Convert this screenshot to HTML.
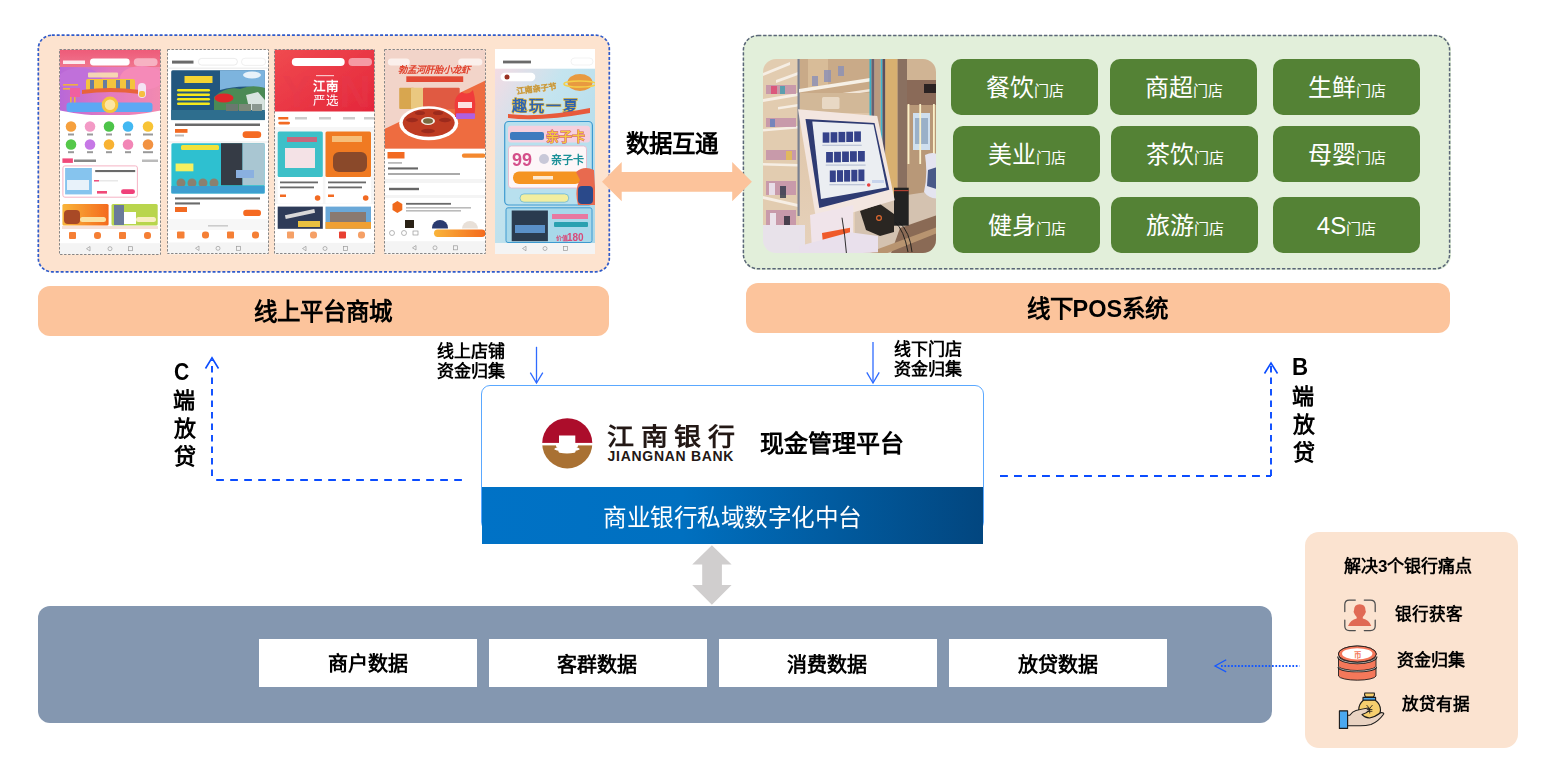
<!DOCTYPE html>
<html lang="zh-CN">
<head>
<meta charset="utf-8">
<style>
*{margin:0;padding:0;box-sizing:border-box;}
html,body{width:1560px;height:773px;background:#fff;overflow:hidden;}
body{position:relative;font-family:"Liberation Sans",sans-serif;color:#000;}
.a{position:absolute;}
.t{position:absolute;white-space:nowrap;line-height:1;}
.b{font-weight:bold;}
/* top-left box */
#lbox{left:38px;top:35px;width:572px;height:237px;background:#FDE3CF;border-radius:14px;}
.phone{position:absolute;top:49px;height:205px;background:#fff;border:1px dashed #7f7f7f;overflow:hidden;}
#gbox{left:742.5px;top:35px;width:708px;height:234.5px;background:#E2EFDA;border-radius:15px;}
.tile{position:absolute;background:#548235;border-radius:10px;color:#fff;}
.tile span{position:absolute;white-space:nowrap;line-height:1;}
.bar{position:absolute;background:#FCC49C;border-radius:12px;}
</style>
</head>
<body>
<!-- online mall box -->
<div id="lbox" class="a"></div>
<svg class="a" style="left:0;top:0;" width="620" height="280"><rect x="38.3" y="35.2" width="571" height="236.6" rx="13.5" fill="none" stroke="#2F5BCB" stroke-width="1.7" stroke-dasharray="3 1.9"/></svg>

<!-- phones -->
<svg class="a" style="left:0;top:0;" width="620" height="280" viewBox="0 0 620 280">
<defs>
<linearGradient id="p1h" x1="0" y1="0" x2="0" y2="1"><stop offset="0" stop-color="#EE5A78"/><stop offset="1" stop-color="#F07A92"/></linearGradient>
<linearGradient id="p1b" x1="0" y1="0" x2="1" y2="0"><stop offset="0" stop-color="#B868D8"/><stop offset=".5" stop-color="#E27AC0"/><stop offset="1" stop-color="#F28AB0"/></linearGradient>
<linearGradient id="p3h" x1="0" y1="0" x2="1" y2="1"><stop offset="0" stop-color="#F04A50"/><stop offset="1" stop-color="#E4263A"/></linearGradient>
<linearGradient id="orb" x1="0" y1="0" x2="1" y2="0"><stop offset="0" stop-color="#F9B43A"/><stop offset="1" stop-color="#F46A1E"/></linearGradient>
<linearGradient id="p5bg" x1="0" y1="0" x2="1" y2="1"><stop offset="0" stop-color="#F4DCE4"/><stop offset=".35" stop-color="#C4E4EF"/><stop offset="1" stop-color="#ACD8E8"/></linearGradient>
<clipPath id="c1"><rect x="59.5" y="49.5" width="101" height="205"/></clipPath>
<clipPath id="c2"><rect x="167.5" y="49.5" width="101" height="205"/></clipPath>
<clipPath id="c3"><rect x="274.5" y="49.5" width="100" height="205"/></clipPath>
<clipPath id="c4"><rect x="384.5" y="49.5" width="101" height="205"/></clipPath>
<clipPath id="c5"><rect x="495" y="49" width="100" height="205"/></clipPath>
<filter id="bl"><feGaussianBlur stdDeviation="0.45"/></filter>
</defs>
<g filter="url(#bl)">
<!-- ===== phone 1 x59-160.5 ===== -->
<g clip-path="url(#c1)">
<rect x="59.5" y="49.5" width="101" height="205" fill="#fff"/>
<rect x="59.5" y="49.5" width="101" height="20" fill="url(#p1h)"/>
<rect x="60" y="67" width="100" height="48" fill="url(#p1b)"/>
<ellipse cx="80" cy="80" rx="22" ry="12" fill="#C070DA"/>
<ellipse cx="142" cy="78" rx="22" ry="12" fill="#F58AB8"/>
<rect x="63" y="60.5" width="22" height="3.5" fill="#fff" opacity=".85"/>
<rect x="90" y="58.6" width="39.7" height="6.8" rx="3.4" fill="#fff"/>
<rect x="133.8" y="58.2" width="23.8" height="7.8" rx="3.9" fill="#F7B2C2"/>
<rect x="88" y="72.5" width="30" height="5" rx="1" fill="#F8E0B0" opacity=".9"/>
<rect x="86" y="79" width="49" height="11.5" rx="2" fill="#F4C43C"/>
<g fill="#3A64C0" opacity=".75"><rect x="90" y="80" width="4" height="9"/><rect x="103" y="80" width="4" height="9"/><rect x="116" y="80" width="4" height="9"/><rect x="126" y="80" width="4" height="9"/></g>
<path d="M82,90 Q110,86 140,90 L140,94 Q110,90 82,94 Z" fill="#E8643A"/>
<g fill="#F0B040"><rect x="63" y="84" width="15" height="1.6"/><rect x="63" y="88" width="15" height="1.6"/><rect x="70" y="97" width="1.6" height="15"/><rect x="74" y="97" width="1.6" height="15"/></g>
<rect x="70" y="88" width="10" height="9" fill="#F060A0"/>
<rect x="66.5" y="102.4" width="86" height="9.5" rx="3" fill="#5CA8F4"/>
<rect x="138" y="83" width="8" height="15" rx="4" fill="#F4E4F4"/>
<rect x="139" y="91" width="6" height="6" rx="2" fill="#F6C040"/>
<circle cx="110" cy="104.8" r="8.3" fill="#F6C43C"/>
<circle cx="110" cy="104.8" r="5.3" fill="#FCE6A2"/>
<path d="M60,110.5 Q110,121 160.5,110.5 L160.5,118 L60,118 Z" fill="#fff"/>
<g>
<circle cx="71" cy="126.5" r="5.3" fill="#F6A03E"/><circle cx="90" cy="126.5" r="5.3" fill="#F39AC6"/><circle cx="109" cy="126.5" r="5.3" fill="#4DC44A"/><circle cx="128" cy="126.5" r="5.3" fill="#43B8F2"/><circle cx="148" cy="126.5" r="5.3" fill="#F8C436"/>
<circle cx="71" cy="144.5" r="5.3" fill="#54C84A"/><circle cx="90" cy="144.5" r="5.3" fill="#C678E6"/><circle cx="109" cy="144.5" r="5.3" fill="#F8B232"/><circle cx="128" cy="144.5" r="5.3" fill="#F286B6"/><circle cx="148" cy="144.5" r="5.3" fill="#F29242"/>
</g>
<g fill="#999"><rect x="68" y="133.5" width="6" height="2"/><rect x="87" y="133.5" width="6" height="2"/><rect x="106" y="133.5" width="6" height="2"/><rect x="125" y="133.5" width="6" height="2"/><rect x="143" y="133.5" width="10" height="2"/>
<rect x="68" y="151.2" width="6" height="2"/><rect x="87" y="151.2" width="6" height="2"/><rect x="106" y="151.2" width="6" height="2"/><rect x="125" y="151.2" width="6" height="2"/><rect x="143" y="151.2" width="10" height="2"/></g>
<rect x="62.4" y="158.4" width="10.5" height="4.5" fill="#F04A7A"/>
<rect x="74" y="159.5" width="22" height="2.5" fill="#888"/>
<rect x="142" y="159.5" width="16" height="2.5" fill="#bbb"/>
<rect x="62.9" y="165.9" width="74.5" height="31.3" rx="2" fill="#fff" stroke="#F5B3C4" stroke-width="1"/>
<rect x="65.1" y="168" width="26.8" height="26.4" fill="#86C4EE"/>
<rect x="67" y="180" width="22" height="10" fill="#E8F2FA"/>
<rect x="95.2" y="170.0" width="40" height="2.1" fill="#6a6a6a"/>
<rect x="94" y="180" width="24" height="1.5" fill="#E8E8E8"/><rect x="94" y="180" width="5" height="1.5" fill="#F05080"/>
<rect x="97" y="191" width="10" height="2.6" fill="#F04878"/>
<rect x="121" y="189.3" width="14" height="4.8" rx="2.4" fill="#F0407A"/>
<rect x="62.4" y="204" width="46.2" height="21.4" rx="1.5" fill="url(#orb)"/>
<rect x="64" y="210" width="16" height="14" rx="4" fill="#A84828"/>
<rect x="80" y="217" width="26" height="5" rx="2.5" fill="#FBE0A0"/>
<rect x="111.5" y="204" width="46.2" height="21.4" rx="1.5" fill="#B9D54E"/>
<rect x="114" y="205" width="10" height="20" fill="#6A7A9A"/>
<rect x="124" y="212" width="12" height="12" fill="#fff"/>
<rect x="136" y="217" width="20" height="5" rx="2.5" fill="#F8EEC0"/>
<rect x="62" y="226" width="96" height="3" fill="#F5E0D8"/>
<g fill="#F57F35"><rect x="69" y="232" width="7" height="7" rx="1"/><rect x="94" y="232" width="7" height="7" rx="3"/><rect x="119" y="232" width="7" height="7" rx="1"/><rect x="144" y="232" width="7" height="7" rx="3"/></g>
<rect x="59.5" y="243.2" width="101" height="11" fill="#F4F4F4"/>
<g fill="none" stroke="#9a9a9a" stroke-width=".7"><path d="M90,246.5 L86.5,248.7 L90,251 Z"/><circle cx="110" cy="248.7" r="2"/><rect x="128.5" y="246.7" width="4" height="4"/></g>

</g>
<!-- ===== phone 2 x167-268.5 ===== -->
<g clip-path="url(#c2)">
<rect x="167.5" y="49.5" width="101" height="205" fill="#fff"/>
<rect x="172" y="60.6" width="21.5" height="3.0" fill="#6a6a6a"/>
<rect x="198.4" y="58.4" width="39" height="6.7" rx="3.3" fill="#fff" stroke="#DDD" stroke-width=".6"/>
<rect x="241.5" y="58.2" width="24.2" height="7.2" rx="3.6" fill="#fff" stroke="#E4E4E4" stroke-width=".6"/>
<rect x="167.5" y="67.5" width="101" height="1.5" fill="#F0F0F0"/>
<rect x="171.2" y="70.3" width="93.7" height="49.8" rx="1.5" fill="#23577E"/>
<path d="M220,70.3 L264.9,70.3 L264.9,88 Q240,84 220,90 Z" fill="#7DB4DE"/>
<ellipse cx="252" cy="75" rx="9" ry="3.5" fill="#E8F2FA"/>
<path d="M214,97 Q226,86 240,89 Q252,84 264.9,88 L264.9,110 L214,110 Z" fill="#4C8A54"/>
<path d="M246,95 L258,92 L264.9,100 L264.9,112 L250,112 Z" fill="#D8E4E0"/>
<rect x="171.2" y="110" width="93.7" height="10.1" fill="#2F6E8E"/>
<rect x="184.5" y="76" width="28" height="7" fill="#F4D432"/>
<g fill="#F7E81C"><rect x="177" y="89" width="33" height="2.6" rx="1.3"/><rect x="177" y="93.5" width="33" height="2.6" rx="1.3"/><rect x="177" y="98" width="33" height="2.6" rx="1.3"/><rect x="177" y="102.5" width="33" height="2.6" rx="1.3"/></g>
<ellipse cx="224" cy="98" rx="9.5" ry="4.5" fill="#E0282A"/>
<rect x="226" y="104" width="12" height="7" fill="#6A7870"/><rect x="239" y="104" width="12" height="7" fill="#7A8878"/><rect x="252" y="104" width="10" height="7" fill="#8A9890"/>
<rect x="175" y="123.5" width="85" height="2.5" fill="#6a6a6a"/>
<rect x="175" y="129" width="12.5" height="3.8" fill="#F26A22"/>
<rect x="175" y="134.5" width="9" height="2" fill="#bbb"/>
<rect x="242.6" y="131.3" width="18.6" height="6.7" rx="3.3" fill="#F56A20"/>
<rect x="167.5" y="141" width="101" height="2.2" fill="#F4F4F4"/>
<rect x="171.4" y="143.2" width="93.2" height="50.2" rx="1.5" fill="#2DC0D0"/>
<rect x="221" y="143.2" width="21.5" height="42" fill="#353A44"/>
<rect x="242.5" y="143.2" width="22.1" height="42" fill="#A9C6D2"/>
<rect x="236" y="170" width="18" height="8" fill="#8AB0E0"/>
<rect x="181" y="145" width="38" height="5" rx="1.5" fill="#F2E23A"/>
<rect x="175.6" y="163.5" width="17.8" height="7.8" fill="#F6F060"/>
<g fill="#8A8070"><circle cx="181" cy="183" r="4.5"/><circle cx="192" cy="183" r="4.5"/><circle cx="203" cy="183" r="4.5"/><circle cx="214" cy="183" r="4.5"/></g>
<rect x="171.4" y="186" width="93.2" height="7.4" fill="#3C9ED0"/>
<rect x="175" y="197.4" width="85" height="2.1" fill="#6a6a6a"/><rect x="175" y="202.4" width="25" height="2.1" fill="#6a6a6a"/>
<rect x="175" y="207" width="12" height="5" fill="#F26A22"/>
<rect x="243.2" y="209.7" width="17.8" height="6.4" rx="3.2" fill="#F56A20"/>
<rect x="167.5" y="219" width="101" height="11" fill="#F7F7F7"/>
<rect x="208" y="225" width="20" height="1.6" fill="#ccc"/>
<g fill="#F57F35"><rect x="177" y="231.5" width="7.5" height="7" rx="1"/><rect x="202" y="231.5" width="7" height="7" rx="3"/><rect x="227" y="231.5" width="7" height="7" rx="1"/><rect x="252" y="231.5" width="7" height="7" rx="3"/></g>
<rect x="167.5" y="242.5" width="101" height="11.5" fill="#F4F4F4"/>
<g fill="none" stroke="#9a9a9a" stroke-width=".7"><path d="M199,246 L195.5,248.3 L199,250.6 Z"/><circle cx="218" cy="248.3" r="2"/><rect x="236.5" y="246.3" width="4" height="4"/></g>

</g>
<!-- ===== phone 3 x274.5-374.5 ===== -->
<g clip-path="url(#c3)">
<rect x="274.5" y="49.5" width="100" height="205" fill="#fff"/>
<rect x="274.5" y="49.5" width="100" height="62" fill="url(#p3h)"/>
<text x="282" y="107" font-family="Liberation Sans" font-weight="bold" font-size="44" fill="#E53A4E" opacity=".35">YAN</text>
<rect x="291.8" y="58" width="52.9" height="8" rx="4" fill="#fff"/>
<rect x="348.4" y="58" width="23.6" height="8" rx="4" fill="#F59AA4"/>
<text x="312.5" y="90.5" font-family="Liberation Sans" font-size="12.5" font-weight="bold" fill="#fff">江南</text>
<text x="312.5" y="104.5" font-family="Liberation Sans" font-size="12.5" fill="#fff">严选</text>
<rect x="316" y="75" width="18" height="1.2" fill="#fff" opacity=".7"/>
<g fill="#ccc"><rect x="295" y="117" width="12" height="2.5"/><rect x="319" y="117" width="12" height="2.5"/><rect x="343" y="117" width="12" height="2.5"/><rect x="364" y="117" width="10" height="2.5"/></g>
<rect x="278.3" y="117" width="10" height="2.5" fill="#F26A22"/>
<rect x="278.3" y="121.7" width="11.7" height="2.7" rx="1.3" fill="#F26A22"/>
<rect x="274.5" y="127" width="100" height="77" fill="#F6F6F6"/>
<rect x="277.7" y="131.5" width="45.1" height="45.5" rx="1.5" fill="#3EC0C8"/>
<rect x="285" y="148" width="30" height="20" fill="#F4E2E6"/>
<rect x="287" y="137" width="30" height="5" fill="#E8506A" opacity=".8"/>
<rect x="325.5" y="131.5" width="45.5" height="45.5" rx="1.5" fill="#F07A22"/>
<rect x="333" y="152" width="34" height="20" rx="6" fill="#8A4A2A"/>
<rect x="332" y="136" width="30" height="6" fill="#F8D090" opacity=".8"/>
<rect x="277.7" y="177" width="45.1" height="26.5" fill="#fff"/><rect x="325.5" y="177" width="45.5" height="26.5" fill="#fff"/>
<g fill="#6a6a6a"><rect x="280" y="181.5" width="38" height="1.8"/><rect x="280" y="186.5" width="34" height="1.8"/><rect x="328" y="181.5" width="38" height="1.8"/><rect x="328" y="186.5" width="34" height="1.8"/></g>
<rect x="280" y="194.5" width="6" height="2.5" fill="#F26A22"/><rect x="328" y="194.5" width="6" height="2.5" fill="#F26A22"/>
<circle cx="317.6" cy="198" r="2.8" fill="#F26A22"/><circle cx="365.7" cy="198" r="2.8" fill="#F26A22"/>
<rect x="277.7" y="206.6" width="45.1" height="22.2" fill="#2E3A58"/>
<rect x="285" y="212" width="30" height="4" fill="#D8D8D8" transform="rotate(-12 300 214)"/>
<rect x="298" y="221" width="22" height="6" fill="#E8C040"/>
<rect x="325.5" y="206.6" width="45.5" height="22.2" fill="#6AA8D8"/>
<rect x="330" y="212" width="36" height="12" fill="#8A7A70"/>
<rect x="325.5" y="222" width="45.5" height="6.8" fill="#F0A030"/>
<g fill="#F5A066"><rect x="287" y="231.5" width="7" height="7" rx="1"/><rect x="310" y="231.5" width="7" height="7" rx="3"/><rect x="339" y="231.5" width="7" height="7" rx="1" fill="#E84030"/><rect x="358" y="231.5" width="7" height="7" rx="3"/></g>
<rect x="274.5" y="242.9" width="100" height="11" fill="#F4F4F4"/>
<g fill="none" stroke="#9a9a9a" stroke-width=".7"><path d="M306,246.3 L302.5,248.5 L306,250.8 Z"/><circle cx="325" cy="248.5" r="2"/><rect x="343.5" y="246.5" width="4" height="4"/></g>

</g>
<!-- ===== phone 4 x384-486 ===== -->
<g clip-path="url(#c4)">
<rect x="384.5" y="49.5" width="101" height="205" fill="#fff"/>
<rect x="384.5" y="49.5" width="101" height="99.3" fill="#F2D4C9"/>
<polygon points="384.5,129 485.5,80.6 485.5,148.8 384.5,148.8" fill="#EE6C40"/>
<rect x="387.8" y="58.5" width="22" height="7.1" rx="3.5" fill="#FBF0EC"/>
<rect x="458.2" y="58.5" width="24.2" height="7.1" rx="3.5" fill="#FBF0EC"/>
<text x="398" y="72.8" font-family="Liberation Sans" font-size="9.3" font-weight="bold" font-style="italic" fill="#E0402C">勃孟河肝胎小龙虾</text>
<rect x="406.3" y="76.3" width="56.9" height="5.7" fill="#E24A34"/>
<rect x="399.2" y="87.7" width="15" height="21.3" rx="1" fill="#D8A650"/>
<rect x="411" y="87.7" width="12" height="21.3" rx="1" fill="#EAC880"/>
<rect x="423" y="87.7" width="36.7" height="21.3" rx="1" fill="#E05A42"/>
<ellipse cx="428.7" cy="123.2" rx="29.5" ry="17" fill="#fff"/>
<ellipse cx="428.7" cy="122.8" rx="26" ry="14" fill="#BE3A24"/>
<g fill="#8E2418" opacity=".7"><ellipse cx="412" cy="120" rx="6" ry="2.2"/><ellipse cx="445" cy="120" rx="6" ry="2.2"/><ellipse cx="428" cy="131" rx="7" ry="2.2"/><ellipse cx="420" cy="113" rx="5" ry="2"/><ellipse cx="438" cy="113" rx="5" ry="2"/></g>
<ellipse cx="428" cy="121" rx="7" ry="4" fill="#F4EEE4"/><ellipse cx="428" cy="121" rx="5" ry="2.8" fill="#7A6A40"/>
<path d="M455,110 Q453,96 462,92 Q468,96 473,90 Q477,104 474,117 L455,117 Z" fill="#F03A3A"/>
<rect x="456" y="113.3" width="19" height="5.7" rx="1" fill="#B060E0"/>
<rect x="458" y="102" width="14" height="6" fill="#fff" opacity=".85"/>
<rect x="384.5" y="148.8" width="101" height="34" fill="#fff"/>
<rect x="387.5" y="152" width="17" height="6.5" fill="#F26A22"/>
<rect x="461.9" y="153.5" width="23.5" height="4.2" rx="2" fill="#F4882E"/>
<rect x="388" y="162" width="14" height="1.8" fill="#bbb"/>
<rect x="388" y="167.4" width="30" height="2.1" fill="#666"/>
<rect x="388" y="173" width="72" height="2" fill="#aaa"/>
<rect x="384.5" y="179" width="101" height="4" fill="#F4F4F4"/>
<rect x="387" y="183" width="96" height="12" rx="1.5" fill="#fff"/>
<rect x="389" y="187.8" width="30" height="2.4" fill="#666"/>
<rect x="384.5" y="195" width="101" height="3" fill="#F4F4F4"/>
<rect x="387" y="198" width="96" height="30" fill="#fff"/>
<path d="M397.4,201 L402.3,204 L402.3,210 L397.4,213 L392.5,210 L392.5,204 Z" fill="#F06A1C"/>
<rect x="406" y="202.9" width="45" height="1.8" fill="#6a6a6a"/>
<rect x="406" y="207" width="65" height="1.6" fill="#bbb"/><rect x="406" y="210" width="55" height="1.6" fill="#bbb"/>
<rect x="405" y="220" width="9" height="8" fill="#2A2018"/><circle cx="440" cy="228" r="8" fill="#2A3A70"/><circle cx="470" cy="229" r="8" fill="#E8E0D8"/>
<rect x="384.5" y="228.5" width="101" height="12.5" fill="#fff"/>
<g fill="none" stroke="#888" stroke-width=".6"><circle cx="392" cy="233" r="2.5"/><circle cx="404" cy="233" r="2.5"/><rect x="413" y="231" width="5" height="4"/></g>
<rect x="434" y="229.5" width="51.6" height="7.5" rx="3.7" fill="url(#orb)"/>
<rect x="384.5" y="241.2" width="101" height="13" fill="#F4F4F4"/>
<g fill="none" stroke="#9a9a9a" stroke-width=".7"><path d="M416,245.5 L412.5,247.8 L416,250 Z"/><circle cx="435" cy="247.8" r="2"/><rect x="453.5" y="245.8" width="4" height="4"/></g>

</g>
<!-- ===== phone 5 x495-595 ===== -->
<g clip-path="url(#c5)">
<rect x="495" y="49" width="100" height="205" fill="#fff"/>
<rect x="495" y="68.7" width="100" height="177.8" fill="url(#p5bg)"/>
<rect x="503" y="60.6" width="28" height="2.8" fill="#6a6a6a"/>
<rect x="571" y="58" width="22" height="7" rx="3.5" fill="#fff" stroke="#E4E4E4" stroke-width=".5"/>
<rect x="500.6" y="72.8" width="34.7" height="8.4" rx="4.2" fill="#fff"/>
<circle cx="507" cy="77" r="2.5" fill="#9A3020"/>
<ellipse cx="580" cy="82.5" rx="12.5" ry="8.5" fill="#E89A40"/>
<ellipse cx="580" cy="84" rx="16" ry="3" fill="none" stroke="#F5D048" stroke-width="1.5"/>
<text x="516" y="91" font-family="Liberation Sans" font-size="8" font-weight="bold" fill="#F8EEC8" stroke="#C89A40" stroke-width=".4" transform="rotate(-8 538 86)">江南亲子节</text>
<text x="512" y="111" font-family="Liberation Sans" font-size="15" font-weight="bold" fill="#2E64B0" stroke="#F2C440" stroke-width="1.2" paint-order="stroke" letter-spacing="2">趣玩一夏</text>
<path d="M508,114 Q540,118 590,108 L590,113 Q540,122 508,118 Z" fill="#E85A3A"/>
<rect x="504.7" y="121.5" width="87.7" height="83.5" rx="4" fill="#B8E0EE" stroke="#3E9AD0" stroke-width="1.2"/>
<rect x="508" y="125.7" width="82" height="16.7" rx="3" fill="#F5D0DE"/>
<rect x="510" y="132" width="34" height="8" rx="2" fill="#3C7ABE"/>
<text x="546" y="141" font-family="Liberation Sans" font-size="13" font-weight="bold" fill="#F4C83E" stroke="#D04A7A" stroke-width=".8" paint-order="stroke">亲子卡</text>
<rect x="508.5" y="146" width="78" height="42" rx="3" fill="#FDF6F8" stroke="#E8B4C8" stroke-width=".8"/>
<text x="512" y="166" font-family="Liberation Sans" font-size="18" font-weight="bold" fill="#D4508A">99</text>
<circle cx="544" cy="159" r="5" fill="#C8C8D8"/>
<text x="551" y="164" font-family="Liberation Sans" font-size="11" font-weight="bold" fill="#1A9098">亲子卡</text>
<rect x="513" y="171.6" width="68.3" height="12.5" rx="6" fill="#F59422"/>
<rect x="533" y="176" width="20" height="3.5" fill="#fff" opacity=".8"/>
<path d="M576,172 Q584,165 594,170 L596,205 L578,205 Q574,190 580,180 Z" fill="#E86A50"/>
<rect x="578" y="186" width="15" height="18" rx="4" fill="#2A4A8A"/>
<rect x="520" y="193.9" width="48.7" height="8.3" rx="4" fill="#F2EEA0" stroke="#5AB0D8" stroke-width=".7"/>
<rect x="506" y="207.8" width="86" height="34.7" rx="2" fill="#A8D8EA" stroke="#3E9AD0" stroke-width="1"/>
<rect x="511.7" y="210.5" width="36.2" height="30.7" fill="#2C3A50"/>
<rect x="515" y="225" width="30" height="8" fill="#5A90C8"/>
<rect x="552" y="214" width="36" height="5" fill="#E878A0"/>
<rect x="554" y="222" width="34" height="5" rx="1" fill="#2AA0B0"/>

<text x="556" y="240" font-family="Liberation Sans" font-size="6" font-weight="bold" fill="#D84A7A">价值</text><text x="567" y="240.5" font-family="Liberation Sans" font-size="10" font-weight="bold" fill="#D84A7A">180</text>
<rect x="495" y="243" width="100" height="11" fill="#F4F4F4"/>
<g fill="none" stroke="#9a9a9a" stroke-width=".7"><path d="M526,246.2 L522.5,248.5 L526,250.8 Z"/><circle cx="545" cy="248.5" r="2"/><rect x="563.5" y="246.5" width="4" height="4"/></g>
</g>
</g>
<!-- dashed phone borders -->
<g fill="none" stroke="#858585" stroke-width="1" stroke-dasharray="2.4 1.6">
<rect x="59.5" y="49.5" width="101" height="205"/>
<rect x="167.5" y="49.5" width="101" height="204"/>
<rect x="274.5" y="49.5" width="100" height="204"/>
<rect x="384.5" y="49.5" width="101" height="204"/>
</g>
</svg>

<!-- offline POS box -->
<div id="gbox" class="a"></div>
<svg class="a" style="left:730px;top:20px;" width="740" height="270"><rect x="13.4" y="15.6" width="706.2" height="233.2" rx="14.5" fill="none" stroke="#5A6678" stroke-width="1.5" stroke-dasharray="3.4 1.8"/></svg>
<svg class="a" style="left:763px;top:59px;" width="173" height="194" viewBox="763 59 173 194">
<defs>
<clipPath id="pc"><rect x="763" y="59" width="173" height="194" rx="13"/></clipPath>
<linearGradient id="posw" x1="0" y1="0" x2="0" y2="1"><stop offset="0" stop-color="#DCC0A0"/><stop offset="1" stop-color="#E6D2BC"/></linearGradient>
<filter id="pbl" x="-5%" y="-5%" width="110%" height="110%"><feGaussianBlur stdDeviation="0.6"/></filter>
</defs>
<g clip-path="url(#pc)">
<g filter="url(#pbl)">
<rect x="760" y="56" width="180" height="200" fill="url(#posw)"/>
<!-- left shelves -->
<rect x="760" y="56" width="39" height="200" fill="#E2CCB0"/>
<g fill="#F6EEE4"><polygon points="763,73 790,62 790,65 763,76"/><polygon points="776,80 798,72 798,75 776,83"/>
<polygon points="763,99 798,93 798,96 763,102"/><polygon points="778,107 798,104 798,106.5 778,109.5"/>
<polygon points="763,129 798,126 798,128.5 763,131.5"/><polygon points="763,163 798,164 798,166.5 763,165.5"/>
<polygon points="763,196 798,204 798,207 763,199"/><polygon points="763,230 798,240 798,243 763,233"/></g>
<g fill="#C08AA8" opacity=".75"><rect x="766" y="85" width="30" height="9"/><rect x="766" y="118" width="30" height="9"/><rect x="766" y="150" width="30" height="10"/><rect x="766" y="181" width="30" height="14"/><rect x="766" y="210" width="30" height="22"/></g>
<g opacity=".8"><rect x="771" y="86" width="6" height="8" fill="#E04870"/><rect x="780" y="86" width="5" height="8" fill="#40A0B0"/><rect x="770" y="119" width="5" height="8" fill="#6080C0"/><rect x="786" y="151" width="6" height="9" fill="#E8C050"/><rect x="769" y="183" width="6" height="12" fill="#F0F0F8"/><rect x="780" y="186" width="6" height="12" fill="#303848"/><rect x="770" y="213" width="6" height="16" fill="#F4F4FA"/><rect x="784" y="216" width="6" height="16" fill="#2A2A38"/></g>
<rect x="797.5" y="56" width="2.2" height="160" fill="#7A8090"/>
<!-- middle upper -->
<rect x="800" y="56" width="70" height="40" fill="#C9AA88"/>
<rect x="808" y="58" width="20" height="30" fill="#D8BC98"/>
<g fill="#8A90B8" opacity=".8"><rect x="812" y="76" width="6" height="10"/><rect x="824" y="70" width="7" height="12"/><rect x="838" y="66" width="6" height="10"/></g>
<polygon points="799,89 870,78 870,81.5 799,92.5" fill="#F6F0E6"/>
<polygon points="822,96 870,89 870,91.5 822,98.5" fill="#F2E6D8"/>
<rect x="800" y="93" width="70" height="20" fill="#D2B898"/>
<rect x="822" y="97" width="17.5" height="12" rx="1.5" fill="#E8D8C4"/>
<!-- cyan columns -->
<rect x="869.5" y="56" width="2" height="130" fill="#3AB0C8"/>
<rect x="871.5" y="56" width="3" height="130" fill="#6A6070"/>
<rect x="880.5" y="56" width="2" height="130" fill="#40B8D0"/>
<rect x="882.5" y="56" width="3" height="130" fill="#5A5060"/>
<rect x="874.5" y="56" width="6" height="130" fill="#B89A80"/>
<!-- golden pillar -->
<rect x="885.3" y="56" width="12.3" height="150" fill="#D8B070"/>
<rect x="897.6" y="56" width="9.5" height="150" fill="#8A7060"/>
<!-- right interior -->
<rect x="907" y="56" width="32" height="150" fill="#B89878"/>
<rect x="907" y="56" width="32" height="24" fill="#D0B494"/>
<rect x="907" y="80" width="32" height="25" fill="#8A6A58"/>
<rect x="924" y="84" width="12" height="9" fill="#2A2424"/>
<rect x="913" y="113" width="17" height="37" fill="#CFDFEE"/>
<rect x="915" y="118" width="13" height="26" fill="#9AB0C8"/>
<g fill="#FAF0C8"><rect x="907.6" y="104" width="1.8" height="60"/><rect x="919.3" y="104" width="1.8" height="60"/><rect x="933" y="104" width="1.8" height="60"/></g>
<!-- counter -->
<polygon points="855,203 940,190 940,256 855,256" fill="#D4C2B0"/>
<polygon points="900,228 940,214 940,256 890,256" fill="#8A6A54"/>
<polygon points="870,252 940,226 940,232 880,256" fill="#B89470"/>
<rect x="760" y="225" width="45" height="31" fill="#E8E2EA"/>
<!-- sneaker -->
<path d="M925,155 Q936,150 940,158 L940,198 Q930,200 924,192 Q928,175 925,155 Z" fill="#E4E4F0"/>
<path d="M928,170 L940,166 L940,190 L927,186 Z" fill="#4A5A88"/>
<!-- printer & scanner -->
<rect x="894" y="187.7" width="14.7" height="38" fill="#222"/>
<rect x="894" y="190" width="14.7" height="1.2" fill="#B04030"/>
<polygon points="860,211 880,204 894,214 894,232 880,236 866,230" fill="#2A2624"/>
<circle cx="879" cy="218" r="2.4" fill="none" stroke="#E06A30" stroke-width="1.2"/>
<path d="M895,222 Q904,230 908,252 M899,222 Q910,232 912,252" stroke="#1A1A1A" stroke-width="0.9" fill="none"/>
<!-- monitor bezel -->
<polygon points="798,109.3 877.2,116.1 894.7,200.3 816.7,223" fill="#F3E6E0"/>
<!-- screen -->
<polygon points="805.5,118.9 874.5,123 889.3,189.7 819.3,208" fill="#2E3A72"/>
<polygon points="812.3,121.5 873.5,124.5 886.5,187.5 821,199" fill="#EBEEF2"/>
<g fill="#34428A"><rect x="822.7" y="132.4" width="6.7" height="10.3"/><rect x="830.6" y="132.2" width="6.7" height="10.3"/><rect x="838.5" y="131.9" width="6.7" height="10.3"/><rect x="846.3" y="131.7" width="6.7" height="10.3"/><rect x="854.2" y="131.4" width="6.7" height="10.3"/><rect x="826.1" y="152.0" width="6.8" height="10.5"/><rect x="834.1" y="151.8" width="6.8" height="10.5"/><rect x="842.1" y="151.5" width="6.8" height="10.5"/><rect x="850.0" y="151.2" width="6.8" height="10.5"/><rect x="858.0" y="151.0" width="6.8" height="10.5"/><rect x="829.8" y="170.5" width="6.0" height="11.6"/><rect x="837.0" y="170.2" width="6.0" height="11.6"/><rect x="844.1" y="170.0" width="6.0" height="11.6"/><rect x="851.3" y="169.8" width="6.0" height="11.6"/><rect x="858.4" y="169.5" width="6.0" height="11.6"/></g>
<g fill="#B8C0D4"><rect x="822.3" y="144.7" width="39.4" height="1.2"/><rect x="825.7" y="164.5" width="39.9" height="1.2"/><rect x="829.4" y="184.1" width="35.8" height="1.2"/></g>
<circle cx="868.7" cy="185" r="1.8" fill="#E84040"/>
<rect x="872" y="180" width="12" height="3" fill="#C8D4EC"/>
<!-- stand -->
<polygon points="810,215 853.3,205 853.3,248.3 812,250" fill="#F0E4EA"/>
<polygon points="822,233 850,227.7 850,238 823,243.7" fill="#EF5A2A"/>
<polygon points="799.3,246 850,232.3 878,236 878,252.3 799.3,256" fill="#E9E0EC"/>
<path d="M842,217.7 Q845,235 846.7,256" stroke="#1A1A1A" stroke-width="0.9" fill="none"/>
</g>
</g>
</svg>



<div class="tile" style="left:951px;top:59px;width:147px;height:56px;"><div style="position:absolute;left:0;right:0;top:1px;bottom:0;display:flex;align-items:center;justify-content:center;"><span style="position:static;font-size:24px;">餐饮</span><span style="position:static;font-size:15px;margin-top:6px;">门店</span></div></div>
<div class="tile" style="left:1110px;top:59px;width:147px;height:56px;"><div style="position:absolute;left:0;right:0;top:1px;bottom:0;display:flex;align-items:center;justify-content:center;"><span style="position:static;font-size:24px;">商超</span><span style="position:static;font-size:15px;margin-top:6px;">门店</span></div></div>
<div class="tile" style="left:1273px;top:59px;width:147px;height:56px;"><div style="position:absolute;left:0;right:0;top:1px;bottom:0;display:flex;align-items:center;justify-content:center;"><span style="position:static;font-size:24px;">生鲜</span><span style="position:static;font-size:15px;margin-top:6px;">门店</span></div></div>
<div class="tile" style="left:953px;top:126px;width:147px;height:56px;"><div style="position:absolute;left:0;right:0;top:1px;bottom:0;display:flex;align-items:center;justify-content:center;"><span style="position:static;font-size:24px;">美业</span><span style="position:static;font-size:15px;margin-top:6px;">门店</span></div></div>
<div class="tile" style="left:1111px;top:126px;width:147px;height:56px;"><div style="position:absolute;left:0;right:0;top:1px;bottom:0;display:flex;align-items:center;justify-content:center;"><span style="position:static;font-size:24px;">茶饮</span><span style="position:static;font-size:15px;margin-top:6px;">门店</span></div></div>
<div class="tile" style="left:1273px;top:126px;width:147px;height:56px;"><div style="position:absolute;left:0;right:0;top:1px;bottom:0;display:flex;align-items:center;justify-content:center;"><span style="position:static;font-size:24px;">母婴</span><span style="position:static;font-size:15px;margin-top:6px;">门店</span></div></div>
<div class="tile" style="left:953px;top:197px;width:147px;height:56px;"><div style="position:absolute;left:0;right:0;top:1px;bottom:0;display:flex;align-items:center;justify-content:center;"><span style="position:static;font-size:24px;">健身</span><span style="position:static;font-size:15px;margin-top:6px;">门店</span></div></div>
<div class="tile" style="left:1111px;top:197px;width:147px;height:56px;"><div style="position:absolute;left:0;right:0;top:1px;bottom:0;display:flex;align-items:center;justify-content:center;"><span style="position:static;font-size:24px;">旅游</span><span style="position:static;font-size:15px;margin-top:6px;">门店</span></div></div>
<div class="tile" style="left:1273px;top:197px;width:147px;height:56px;"><div style="position:absolute;left:0;right:0;top:1px;bottom:0;display:flex;align-items:center;justify-content:center;"><span style="position:static;font-size:24px;">4S</span><span style="position:static;font-size:15px;margin-top:6px;">门店</span></div></div>

<!-- bars -->
<div class="bar" style="left:38px;top:286px;width:571px;height:50px;"></div>
<div class="bar" style="left:746px;top:283px;width:704px;height:50px;"></div>

<!-- platform -->
<div class="a" style="left:481.2px;top:384.7px;width:502.7px;height:146px;border:1.6px solid #5AA8FF;border-radius:9px;background:#fff;"></div>
<div class="a" style="left:482px;top:487px;width:501px;height:57px;background:linear-gradient(90deg,#0072C6 0%,#0070C0 40%,#02467F 100%);"></div>

<!-- bottom data box -->
<div class="a" style="left:38px;top:605.5px;width:1234px;height:117.2px;background:#8497B0;border-radius:12px;"></div>
<div class="a" style="left:259px;top:639px;width:218px;height:48px;background:#fff;"></div>
<div class="a" style="left:489px;top:639px;width:218px;height:48px;background:#fff;"></div>
<div class="a" style="left:719px;top:639px;width:218px;height:48px;background:#fff;"></div>
<div class="a" style="left:949px;top:639px;width:218px;height:48px;background:#fff;"></div>

<!-- pain points panel -->
<div class="a" style="left:1305px;top:532px;width:213px;height:216px;background:#FBE3D0;border-radius:14px;"></div>



<!-- logo -->
<svg class="a" style="left:542px;top:417.5px;" width="51" height="51" viewBox="0 0 51 51">
<defs><clipPath id="lc"><circle cx="25.25" cy="25.3" r="25.1"/></clipPath></defs>
<g clip-path="url(#lc)">
<rect x="0" y="0" width="51" height="24.9" fill="#AC0D2B"/>
<rect x="0" y="27.4" width="51" height="24" fill="#A97133"/>
<rect x="17" y="17.5" width="16.3" height="8" fill="#fff"/>
<path fill="#fff" d="M14,27 L36,27 Q36.6,28.6 34.5,29.4 L35.5,29.6 Q38.2,30.6 37.6,31.6 Q36,32.4 33.6,32.7 Q33.9,34 32.5,34.8 Q25,36.3 17.5,34.8 Q16.1,34 16.4,32.7 Q14,32.4 12.4,31.6 Q11.8,30.6 14.5,29.6 L15.5,29.4 Q13.4,28.6 14,27 Z"/>
</g>
</svg>
<div id="t18" class="t" style="left:607.1px;top:424.0px;font-size:27px;letter-spacing:6.5px;color:#231815;font-weight:bold;transform:scaleY(0.88);transform-origin:0 60%;">江南银行</div>
<div id="t19" class="t" style="left:607.6px;top:449.4px;font-size:14px;letter-spacing:0.7px;color:#231815;font-weight:bold;">JIANGNAN BANK</div>

<!-- panel icons -->
<svg class="a" style="left:1330px;top:590px;" width="70" height="150" viewBox="1330 590 70 150">
<g fill="none" stroke="#4E4E4E" stroke-width="1.25" stroke-linecap="round">
<path d="M1344.8,611.5 L1344.8,604.5 Q1344.8,600 1349.3,600 L1355.3,600"/>
<path d="M1364.3,600 L1370.3,600 Q1375.2,600 1375.2,604.5 L1375.2,611.5"/>
<path d="M1344.8,620 L1344.8,626 Q1344.8,630.5 1349.3,630.5 L1355.3,630.5"/>
<path d="M1364.3,630.5 L1370.3,630.5 Q1375.2,630.5 1375.2,626 L1375.2,620"/>
</g>
<path fill="#E06A55" d="M1359.7,604.2 Q1365.5,604.2 1365.5,610.5 Q1366.2,611 1365.7,612.5 Q1364.5,615.5 1362.8,617 L1362.8,618.6 Q1369,620 1371.3,626 L1348,626 Q1350.5,620 1356.7,618.6 L1356.7,617 Q1355,615.5 1353.8,612.5 Q1353.3,611 1354,610.5 Q1354,604.2 1359.7,604.2 Z"/>
<!-- coins -->
<g stroke="#1E1E1E" stroke-width="0.9" fill="#F4785A">
<path d="M1338.5,667 L1338.5,676 A18.8,4.5 0 0 0 1376,676 L1376,667 Z"/>
<path d="M1338.5,658 L1338.5,667 A18.8,4.5 0 0 0 1376,667 L1376,658 Z"/>
</g>
<g fill="none">
<path d="M1338.5,667 A18.8,4.5 0 0 0 1376,667" stroke="#1E1E1E" stroke-width="2.4"/>
<path d="M1338.5,667 A18.8,4.5 0 0 0 1376,667" stroke="#E8E0D8" stroke-width="0.7"/>
</g>
<ellipse cx="1357.3" cy="654" rx="19" ry="8" fill="#F4785A" stroke="#1E1E1E" stroke-width="0.9"/>
<g fill="none">
<path d="M1338.3,656.5 A19,6.5 0 0 0 1376.3,656.5" stroke="#1E1E1E" stroke-width="2.4"/>
<path d="M1338.3,656.5 A19,6.5 0 0 0 1376.3,656.5" stroke="#E8E0D8" stroke-width="0.7"/>
</g>
<path d="M1338.3,654 A19,8 0 0 1 1376.3,654 A19,8 0 0 1 1338.3,654 Z" fill="#F4785A" stroke="#1E1E1E" stroke-width="0.9"/>
<ellipse cx="1357.2" cy="653.8" rx="15.2" ry="5.6" fill="#fff"/>
<text x="1357.3" y="657.6" font-family="Liberation Sans" font-size="7.5" font-weight="bold" fill="#F4785A" text-anchor="middle">币</text>
<!-- hand & bag -->
<g stroke="#1A1A1A" stroke-width="1.1" stroke-linejoin="round">
<path d="M1364.8,693 L1374.3,693 Q1375,694.5 1373.5,697 L1365.5,697 Q1364,694.5 1364.8,693 Z" fill="#F6CF6E"/>
<path d="M1363,697.4 L1375.6,697.4 L1375.6,700.2 L1363,700.2 Z" fill="#4AA8F0"/>
<path d="M1363.4,700.2 L1375.3,700.2 Q1380.5,704 1380.5,710 Q1380.5,718.5 1369.5,718.5 Q1358.7,718.5 1358.7,710 Q1358.7,704 1363.4,700.2 Z" fill="#F6CF6E"/>
<path d="M1347.5,715.3 L1349.8,715.3 Q1352.5,711.5 1356,710.5 Q1362,709 1368,708 Q1370,708.5 1369,710.8 Q1366.5,713 1362,714.6 Q1364.5,717.5 1369.5,718 Q1375,717 1381,712.5 Q1384.3,712.5 1383.6,714.3 Q1378,722 1371,724.5 Q1365,726 1358,725.7 L1347.5,725.7 Z" fill="#E9D3C2"/>
<rect x="1339.4" y="710.9" width="8.2" height="17.5" fill="#4AA8F0"/>
</g>
<g stroke="#1A1A1A" stroke-width="0.8" fill="none"><path d="M1366.5,705 L1369.7,708.5 L1372.5,705 M1369.7,708.5 L1369.7,713.5 M1366.8,709.5 L1372.4,709.5 M1366.8,711.3 L1372.4,711.3"/></g>
</svg>

<!-- arrows overlay -->
<svg class="a" style="left:0;top:0;" width="1560" height="773" viewBox="0 0 1560 773">
<polygon fill="#FCC39B" points="602,181.7 621.7,162.1 621.7,171.9 732.2,171.9 732.2,162.1 751.9,181.7 732.2,201.3 732.2,191.8 621.7,191.8 621.7,201.3"/>
<polygon fill="#D0CECE" points="711.9,545.2 731.6,564.6 721.9,564.6 721.9,585 731.6,585 711.9,604.7 692.2,585 702.2,585 702.2,564.6 692.2,564.6"/>
<g stroke="#2F6BFF" stroke-width="1.3" fill="none">
<line x1="536.5" y1="346.8" x2="536.5" y2="382.5"/>
<polyline points="530.3,372.7 536.5,383 542.8,372.7"/>
<line x1="873" y1="341.9" x2="873" y2="382.5"/>
<polyline points="866.8,372.3 873,383 879.2,372.3"/>
</g>
<g stroke="#0A4CFF" stroke-width="1.9" fill="none">
<line x1="212" y1="480" x2="462" y2="480" stroke-dasharray="7.7 6.3" stroke-dashoffset="-4.2"/>
<line x1="212" y1="476" x2="212" y2="360" stroke-dasharray="6.4 5.1"/>
<polyline stroke-width="1.6" points="205.5,368.5 212,357.8 218.5,368.5"/>
<line x1="1000" y1="476" x2="1271" y2="476" stroke-dasharray="7.9 6.1"/>
<line x1="1271" y1="476" x2="1271" y2="365" stroke-dasharray="6.4 5.1"/>
<polyline stroke-width="1.6" points="1264.5,373.5 1271,363 1277.5,373.5"/>
</g>
<g stroke="#1558FF" fill="none">
<line x1="1221" y1="666" x2="1299.5" y2="666" stroke-width="1.8" stroke-dasharray="1.7 1.7"/>
<polyline stroke-width="1.3" points="1226.2,659.8 1215,666 1226.2,671.9"/>
</g>
</svg>

<!-- texts -->
<div id="t1" class="t b" style="left:626.0px;top:133.0px;font-size:23.5px;">数据互通</div>
<div id="t2" class="t b" style="left:254.2px;top:300.9px;font-size:23.5px;">线上平台商城</div>
<div id="t3" class="t b" style="left:1026.5px;top:298.0px;font-size:23.5px;">线下POS系统</div>
<div id="t4" class="t b" style="left:436.5px;top:342.0px;font-size:17px;line-height:20px;">线上店铺<br>资金归集</div>
<div id="t5" class="t b" style="left:894.0px;top:340.0px;font-size:17px;line-height:20px;">线下门店<br>资金归集</div>
<div id="t6a" class="t b" style="left:174.1px;top:359.8px;font-size:24px;transform:scaleX(0.88);transform-origin:0 0;">C</div>
<div id="t6b" class="t b" style="left:173.4px;top:389.8px;font-size:22px;">端</div>
<div id="t6c" class="t b" style="left:173.9px;top:417.8px;font-size:22px;">放</div>
<div id="t6d" class="t b" style="left:173.9px;top:445.9px;font-size:22px;">贷</div>
<div id="t7a" class="t b" style="left:1291.5px;top:355.2px;font-size:24px;transform:scaleX(0.93);transform-origin:0 0;">B</div>
<div id="t7b" class="t b" style="left:1292.1px;top:385.6px;font-size:22px;">端</div>
<div id="t7c" class="t b" style="left:1292.6px;top:413.8px;font-size:22px;">放</div>
<div id="t7d" class="t b" style="left:1292.6px;top:442.2px;font-size:22px;">贷</div>
<div id="t8" class="t b" style="left:760.0px;top:431.8px;font-size:24px;">现金管理平台</div>
<div id="t9" class="t" style="left:603.1px;top:506.5px;font-size:23.6px;letter-spacing:-0.5px;color:#fff;">商业银行私域数字化中台</div>
<div id="t10" class="t b" style="left:327.5px;top:653.5px;font-size:20px;">商户数据</div>
<div id="t11" class="t b" style="left:557.0px;top:654.5px;font-size:20px;">客群数据</div>
<div id="t12" class="t b" style="left:787.0px;top:654.5px;font-size:20px;">消费数据</div>
<div id="t13" class="t b" style="left:1017.5px;top:654.5px;font-size:20px;">放贷数据</div>
<div id="t14" class="t b" style="left:1344.0px;top:557.5px;font-size:17px;">解决3个银行痛点</div>
<div id="t15" class="t b" style="left:1395.0px;top:606.5px;font-size:16.6px;">银行获客</div>
<div id="t16" class="t b" style="left:1396.5px;top:651.5px;font-size:17px;">资金归集</div>
<div id="t17" class="t b" style="left:1402.0px;top:697.0px;font-size:16.6px;">放贷有据</div>
</body>
</html>
